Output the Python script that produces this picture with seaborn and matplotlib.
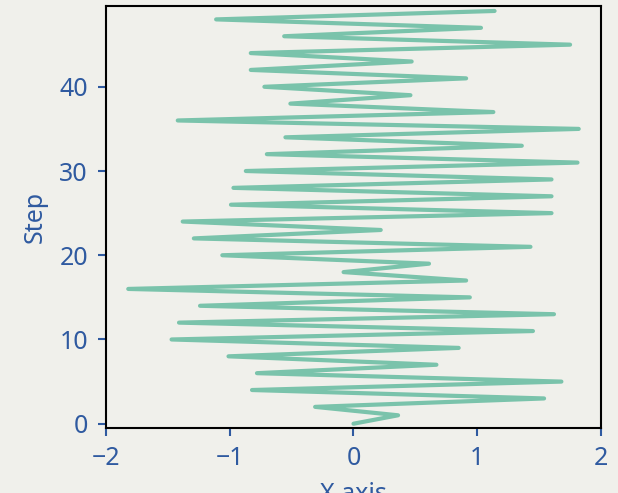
import numpy as np
import pandas as pd
import matplotlib
matplotlib.use("Agg")
import matplotlib.pyplot as plt
import seaborn as sns

# Data (step 0..49)
steps = list(range(50))
x_values = [
    0.00, 0.36, -0.31, 1.54, -0.82, 1.68, -0.78, 0.67, -1.01, 0.85,
    -1.47, 1.45, -1.41, 1.62, -1.24, 0.94, -1.82, 0.91, -0.08, 0.61,
    -1.06, 1.43, -1.29, 0.22, -1.38, 1.60, -0.99, 1.60, -0.97, 1.60,
    -0.87, 1.81, -0.70, 1.36, -0.55, 1.82, -1.42, 1.13, -0.51, 0.46,
    -0.72, 0.91, -0.83, 0.47, -0.83, 1.75, -0.56, 1.03, -1.11, 1.14,
]

bg = "#f0f0eb"
line_color = "#7ac3ab"
text_color = "#2f5aa0"

sns.set_style("white")
plt.rcParams['font.family'] = ['Noto Sans', 'DejaVu Sans']

df = pd.DataFrame({"x": x_values, "step": steps})

fig = plt.figure(figsize=(6.18, 4.93), dpi=100, facecolor=bg)
ax = fig.add_axes([0.1715, 0.132, 0.801, 0.856])
ax.set_facecolor(bg)

sns.lineplot(data=df, x="x", y="step", sort=False, orient="y",
             color=line_color, linewidth=3, ax=ax)

ax.set_xlim(-2, 2)
ax.set_ylim(-0.5, 49.6)
ax.set_xticks([-2, -1, 0, 1, 2])
ax.set_yticks([0, 10, 20, 30, 40])
ax.set_xlabel("X axis", fontsize=18, color=text_color, labelpad=8)
ax.set_ylabel("Step", fontsize=18, color=text_color, labelpad=8)
ax.tick_params(axis="both", labelsize=18, colors=text_color, length=6,
               width=1.5, pad=7, direction="out", bottom=True, left=True)

for spine in ax.spines.values():
    spine.set_color("black")
    spine.set_linewidth(1.5)
    spine.set_visible(True)

fig.savefig("out.png", dpi=100, facecolor=bg)
